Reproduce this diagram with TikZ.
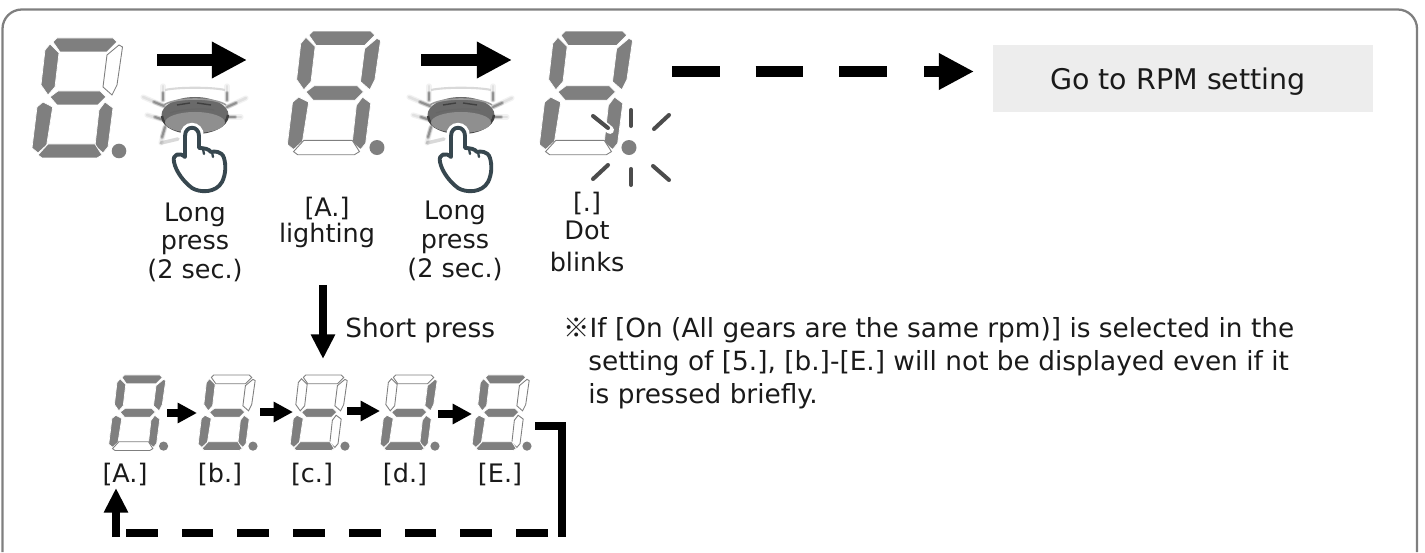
\documentclass[tikz,border=0pt]{standalone}
\usepackage{fontspec}
\setmainfont{DejaVu Sans}
\newfontfamily\cjk{Noto Sans CJK JP}
\usetikzlibrary{arrows.meta}
\definecolor{seggray}{HTML}{7F7F7F}
\definecolor{handblue}{HTML}{37474F}
\definecolor{boxgray}{HTML}{EDEDED}
\definecolor{inkgray}{HTML}{1A1A1A}
\definecolor{rimgray}{HTML}{6A6A6A}
\definecolor{capgray}{HTML}{8F8F8F}
\tikzset{
  segon/.style={fill=seggray,draw=white,line width=.4pt},
  segoff/.style={fill=white,draw=seggray,line width=.5pt},
  segtop/.style={segon},segul/.style={segon},segur/.style={segon},
  segmid/.style={segon},segll/.style={segon},seglr/.style={segon},segbot/.style={segon},
  dark/.style={seg#1/.style={segoff}},
  bigarrow/.style={line width=6.8pt,-{Triangle[length=20pt,width=19.5pt]}},
  smallarrow/.style={line width=4.2pt,-{Triangle[length=11pt,width=11pt]}},
  looparrow/.style={line width=4.5pt,-{Triangle[length=14pt,width=13pt]}},
  lbl/.style={anchor=base,inner sep=0pt,text=inkgray,font=\fontsize{14.5}{17}\selectfont},
  notetext/.style={anchor=base west,inner sep=0pt,text=inkgray,font=\fontsize{15}{17}\selectfont},
  spoke/.style={draw=black,line cap=round,line join=round},
}
% one seven segment digit, #4 lists the segments that are dark
\newcommand{\sevenseg}[4]{
\begin{scope}[shift={(#1,#2)},scale=#3,#4]
\draw[segtop] (53,42)--(57,38)--(113,38)--(117,42)--(107,52)--(60,52)--cycle;
\draw[segul] (50,44)--(59,53)--(55,87)--(48,95)--(41,85)--(45,50)--cycle;
\draw[segur] (119,45)--(122.5,47)--(117,85)--(112,95)--(103,87)--(107,55)--cycle;
\draw[segmid] (50,97)--(58,91)--(100,91)--(106,97)--(98,105)--(57,105)--cycle;
\draw[segll] (43,102)--(52.7,107)--(46.7,145)--(38,153)--(32,148)--(37,107)--cycle;
\draw[seglr] (105,102)--(113,108)--(108,147)--(103,153)--(95,146)--(99,110)--cycle;
\draw[segbot] (38,155)--(48,144)--(95,144)--(102,155)--(97,158)--(42,158)--cycle;
\fill[seggray] (119,151) circle (7.3);
\end{scope}
}
% push button with the hand on it
\newcommand{\pressbutton}[2]{
\begin{scope}[shift={(#1,#2)}]
\foreach \xa/\ya/\xb/\yb/\xc/\yc in {164/106/154/102/143/97,164/120/155/117/147/115,165/127/162/137/161/143,
  227/107/236/103/246/98,228/117/235/117/241/117,163/100/163/93/163/86,227/100/227/93/227/86}
{
  \draw[spoke,line width=3pt,opacity=.05] (\xa,\ya)--(\xc,\yc);
  \draw[spoke,line width=1.5pt,opacity=.07] (\xa,\ya)--(\xc,\yc);
  \draw[spoke,line width=2.4pt,opacity=.14] (\xa,\ya)--(\xb,\yb);
  \draw[spoke,line width=1.2pt,opacity=.25] (\xa,\ya)--(\xb,\yb);
}
\draw[spoke,line width=2pt,opacity=.15] (161,143)--(178,139);
\draw[gray!30,line width=1.2pt] (165,90) .. controls (178,87) and (212,87) .. (225,90);
\fill[rimgray] (195,115) ellipse (33.5 and 18);
\draw[black!75,line width=1.4pt] (162,116) .. controls (163,128) and (180,133) .. (195,133) .. controls (210,133) and (227,127) .. (228,115);
\draw[white!60!black,line width=.9pt] (164,105) .. controls (175,97) and (215,97) .. (226,105);
\fill[capgray] (195,122.5) ellipse (30 and 10.5);
\draw[black!75,line width=.8pt] (177,105)--(190,103);
\draw[black!75,line width=.8pt] (197,103)--(211,105);
\draw[black!60,line width=.7pt] (170,113) .. controls (180,109) and (205,108) .. (214,110);
\draw[handblue,fill=white,line width=2.2pt,line join=round,preaction={draw=white,line width=5.5pt}]
  (185,136) -- (185,157) .. controls (180,152) and (172,154) .. (174,162)
  .. controls (176,172) and (184,182) .. (192,188)
  .. controls (200,193) and (216,193) .. (222,182)
  .. controls (226,174) and (226,165) .. (224,158)
  .. controls (222,151) and (214,151) .. (211,152)
  .. controls (209,149) and (204,148) .. (199,148)
  -- (199,136) .. controls (199,125) and (185,125) .. (185,136) -- cycle;
\draw[handblue,line width=1.3pt,line cap=round] (203,149)--(204,154);
\draw[handblue,line width=1.3pt,line cap=round] (212,152)--(213,157);
\end{scope}
}
\begin{document}
\begin{tikzpicture}[x=.02cm,y=-.02cm,>=Triangle]
\useasboundingbox (0,0) rectangle (1425,553);
\draw[seggray,line width=1.3pt,rounded corners=11pt] (2.5,552)--(2.5,9.5)--(1417,9.5)--(1417,552);

% digits on the upper row
\sevenseg{0}{0}{1}{dark=ur}
\sevenseg{254.4}{-8}{1.03}{dark=bot}
\sevenseg{506.4}{-8}{1.03}{dark=bot}

% digits on the lower row
\sevenseg{88.6}{351}{.63}{dark=bot}
\sevenseg{178}{351}{.63}{dark=top,dark=ur}
\sevenseg{270}{351}{.63}{dark=top,dark=ul,dark=ur,dark=lr}
\sevenseg{360}{351}{.63}{dark=top,dark=ul}
\sevenseg{452}{351}{.63}{dark=ur,dark=lr}

\pressbutton{0}{0}
\pressbutton{266}{0}

% blinking dot
\draw[white,line width=4.5pt,line cap=round] (594,117)--(610,130);
\foreach \xa/\ya/\xb/\yb in {593/116/608/128,631/110/631/126,669/115/654/129,608/165/593/179,631/169/631/185,653/166/669/180}
{
    \draw[black!70,line width=2.3pt,line cap=round] (\xa,\ya)--(\xb,\yb);
}

% labels under the top row
\foreach \x/\y/\xtext [count=\i] in {195/222/Long,195/250/press,195/279/(2 sec.),
  327/217/[A.],327/243/lighting,
  455/220/Long,455/249/press,455/278/(2 sec.),
  587/212/[.],587/240/Dot,587/272/blinks,
  125/482/[A.],220/482/[b.],312/482/[c.],405/482/[d.],500/482/[E.]}
{
    \node[lbl] (lbl\i) at (\x,\y) {\xtext};
}
\node[notetext] (shortpress) at (345,338) {Short press};
\node[notetext] (notea) at (563,338) {{\cjk ※}If [On (All gears are the same rpm)] is selected in the};
\node[notetext] (noteb) at (588,371) {setting of [5.], [b.]-[E.] will not be displayed even if it};
\node[notetext] (notec) at (588,403) {is pressed briefly.};
\node[fill=boxgray,minimum width=216.6pt,minimum height=38pt,inner sep=0pt] (rpmbox) at (1183,78.5) {};
\node[anchor=base,inner sep=0pt,text=inkgray,font=\fontsize{16.2}{19}\selectfont] (rpmtext) at (1178,90) {Go to RPM setting};

% arrows
\coordinate (onea) at (157,60);
\coordinate (oneb) at (247,60);
\coordinate (twoa) at (421,60);
\coordinate (twob) at (512,60);
\draw[bigarrow] (onea)--(oneb);
\draw[bigarrow] (twoa)--(twob);
\coordinate (dasha) at (672,71.5);
\coordinate (dashb) at (888,71.5);
\coordinate (dashc) at (924,71.5);
\coordinate (dashd) at (974,71.5);
\draw[line width=6.8pt,dash pattern=on 27.2pt off 20.4pt] (dasha)--(dashb);
\draw[bigarrow] (dashc)--(dashd);
\coordinate (downa) at (323,285);
\coordinate (downb) at (323,359);
\draw[looparrow] (downa)--(downb);
\foreach \xa/\xb/\y [count=\i] in {167/197/413,260/293/412,347/380/411,438/472/414}
{
    \coordinate (stepa\i) at (\xa,\y);
    \coordinate (stepb\i) at (\xb,\y);
    \draw[smallarrow] (stepa\i)--(stepb\i);
}
\coordinate (backa) at (535,426);
\coordinate (backb) at (562,537);
\coordinate (backc) at (548,533);
\coordinate (backd) at (124,533);
\coordinate (backe) at (116,537);
\coordinate (backf) at (116,488);
\draw[line width=4.5pt] (backa)-|(backb);
\draw[line width=4.5pt,dash pattern=on 18.14pt off 13.6pt] (backc)--(backd);
\draw[looparrow] (backe)--(backf);
\end{tikzpicture}
\end{document}
